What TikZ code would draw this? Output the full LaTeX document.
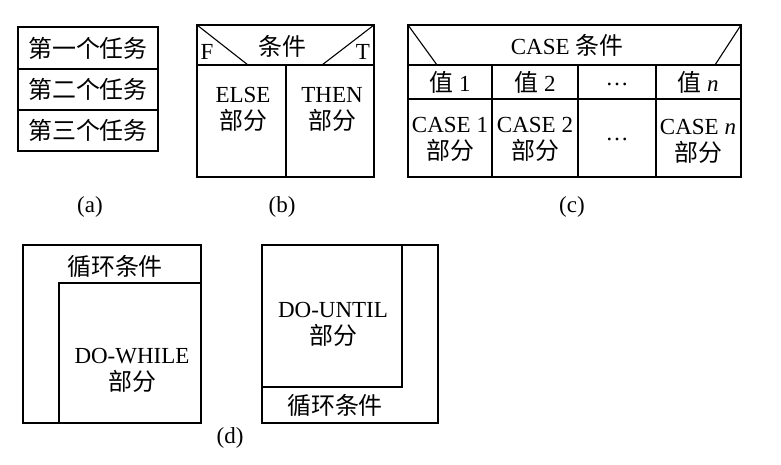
\documentclass[tikz,border=0pt]{standalone}
\usepackage{fontspec}
\setmainfont{Liberation Serif}
\newfontfamily\cjk[Scale=1.04]{Noto Sans CJK SC}
\newcommand{\zh}[1]{{\cjk #1}}
\begin{document}
\begin{tikzpicture}[x=1pt,y=-1pt,line width=1.1pt,
  txt/.style={inner sep=0pt,align=center,font=\fontsize{23}{27}\selectfont}]
\useasboundingbox (0,0) rectangle (781,465);
% (a)
\draw (18,27) rectangle (158,151);
\draw (18,69) -- (158,69) (18,110) -- (158,110);
\node[txt] (a1) at (88,48) {\zh{第一个任务}};
\node[txt] (a2) at (88,89.5) {\zh{第二个任务}};
\node[txt] (a3) at (88,130.5) {\zh{第三个任务}};
\node[txt] (la) at (90,207) {(a)};
% (b)
\draw (197,25) rectangle (374,177);
\draw (197,65) -- (374,65) (286,65) -- (286,177);
\draw (197,25) -- (248,65) (374,25) -- (322,65);
\node[txt] (bc) at (282,46) {\zh{条件}};
\node[txt] (bf) at (207,52) {F};
\node[txt] (bt) at (363,52) {T};
\node[txt] (be) at (243,109) {ELSE\\\zh{部分}};
\node[txt] (bth) at (332,109) {THEN\\\zh{部分}};
\node[txt] (lb) at (282,207) {(b)};
% (c)
\draw (408,25) rectangle (741,177);
\draw (408,65) -- (741,65) (408,99) -- (741,99);
\draw (492,65) -- (492,177) (578,65) -- (578,177) (656,65) -- (656,177);
\draw (408,25) -- (437,65) (741,25) -- (715,65);
\node[txt] (cc) at (567,45) {CASE \zh{条件}};
\node[txt] (v1) at (450,82) {\zh{值} 1};
\node[txt] (v2) at (535,82) {\zh{值} 2};
\node[txt] (vd) at (617,84) {…};
\node[txt] (vn) at (698,82) {\zh{值} \textit{n}};
\node[txt] (p1) at (450,139) {CASE 1\\\zh{部分}};
\node[txt] (p2) at (535,139) {CASE 2\\\zh{部分}};
\node[txt] (pd) at (617,139) {…};
\node[txt] (pn) at (698,141) {CASE \textit{n}\\\zh{部分}};
\node[txt] (lc) at (572,207) {(c)};
% (d) DO-WHILE
\draw (23,245) rectangle (201,423);
\draw (59,423) -- (59,283) -- (201,283);
\node[txt] (wc) at (115,266) {\zh{循环条件}};
\node[txt] (wb) at (132,370) {DO-WHILE\\\zh{部分}};
% (d) DO-UNTIL
\draw (262,245) rectangle (438,423);
\draw (402,245) -- (402,387) -- (262,387);
\node[txt] (uc) at (335,405) {\zh{循环条件}};
\node[txt] (ub) at (333,324) {DO-UNTIL\\\zh{部分}};
\node[txt] (ld) at (230,438) {(d)};
\end{tikzpicture}
\end{document}
